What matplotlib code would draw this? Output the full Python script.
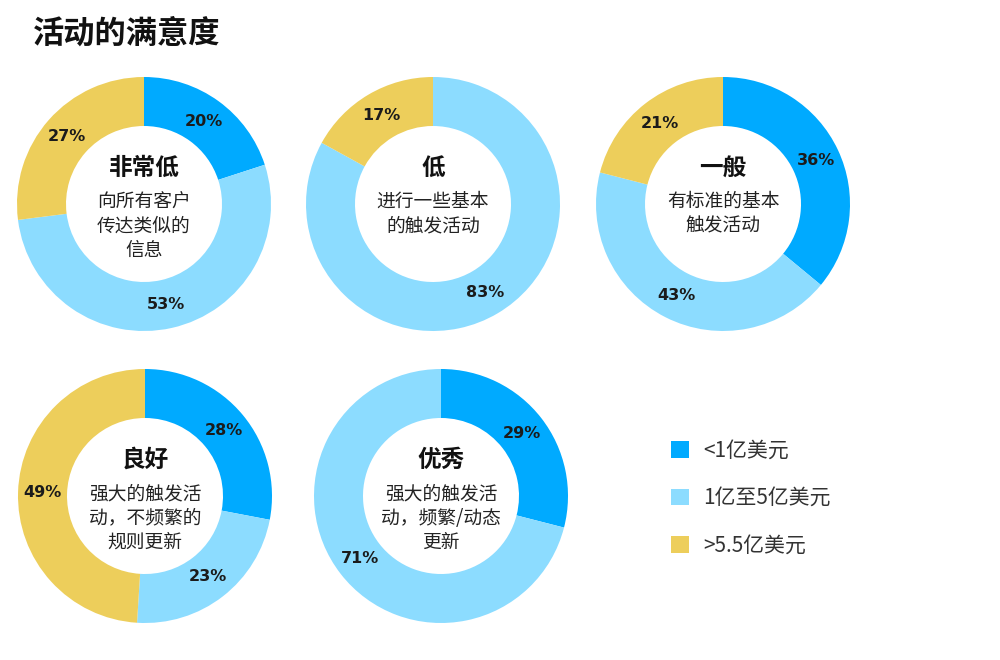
import numpy as np
import matplotlib as mpl
import matplotlib.pyplot as plt
from matplotlib.patches import Patch

plt.rcParams['font.family'] = ['Noto Sans CJK SC', 'DejaVu Sans']

# data
levels = ['非常低', '低', '一般', '良好', '优秀']
descs = ['向所有客户\n传达类似的\n信息',
         '进行一些基本\n的触发活动',
         '有标准的基本\n触发活动',
         '强大的触发活\n动，不频繁的\n规则更新',
         '强大的触发活\n动，频繁/动态\n更新']
small = [20, 0, 36, 28, 29]      # <1亿美元
mid = [53, 83, 43, 23, 71]       # 1亿至5亿美元
big = [27, 17, 21, 49, 0]        # >5.5亿美元
series_names = ['<1亿美元', '1亿至5亿美元', '>5.5亿美元']
colors = ['#00AAFF', '#8CDCFF', '#EDCE5B']

W, H = 1000, 660
R = 127          # outer radius, px
HOLE = 78        # inner radius, px
centers = [(144, 204), (433, 204), (723, 204), (145, 496), (441, 496)]

fig = plt.figure(figsize=(W / 100, H / 100), dpi=100)

fig.text(33 / W, 1 - 34 / H, '活动的满意度', fontsize=22.5, fontweight='bold',
         color='#111111', va='center', ha='left')

span = 1.25 * R
for i, (cx, cy) in enumerate(centers):
    ax = fig.add_axes([(cx - span) / W, 1 - (cy + span) / H, 2 * span / W, 2 * span / H])
    vals = [small[i], mid[i], big[i]]
    ax.pie(vals, colors=colors, startangle=90, counterclock=False, radius=1.0,
           wedgeprops=dict(width=(R - HOLE) / R, linewidth=0))
    ax.set_xlim(-1.25, 1.25)
    ax.set_ylim(-1.25, 1.25)
    ax.set_aspect('equal')

    # percentage labels at the ring middle
    rmid = (R + HOLE) / 2 / R
    start = 0.0
    for v in vals:
        if v > 0:
            a = np.deg2rad(90 - 360 * (start + v / 2) / 100)
            ax.text(rmid * np.cos(a), rmid * np.sin(a), f'{v}%',
                    family='DejaVu Sans', fontweight='bold', fontsize=11.5,
                    color='#1b1b1b', ha='center', va='center')
        start += v

    ax.text(0, 36 / R, levels[i], fontsize=17, fontweight='bold', color='#111111',
            ha='center', va='center')
    ax.text(0, 13 / R, descs[i], fontsize=13.5, color='#222222', ha='center', va='top',
            linespacing=1.22)

handles = [Patch(facecolor=c, edgecolor='none') for c in colors]
fig.legend(handles, series_names, loc='upper left',
           bbox_to_anchor=(652 / W, 1 - 421 / H), frameon=False, fontsize=15,
           handlelength=0.87, handleheight=0.87, handletextpad=0.67,
           labelspacing=1.22, labelcolor='#333333')

plt.savefig('out.png', dpi=100)
